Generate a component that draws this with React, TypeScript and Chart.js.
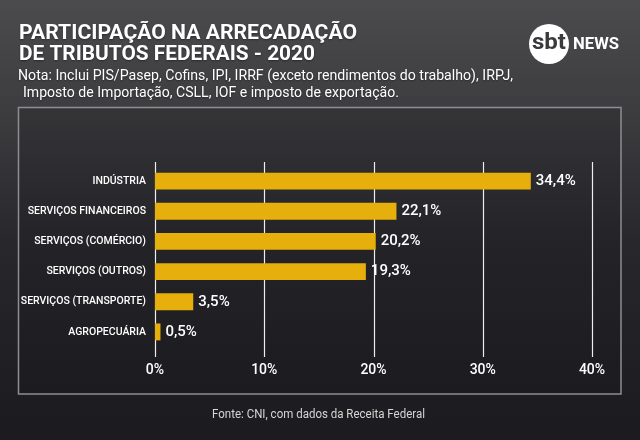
import React, { useEffect, useRef } from "react";
import { Chart, registerables } from "chart.js";

Chart.register(...registerables);

const categories = [
  "INDÚSTRIA",
  "SERVIÇOS FINANCEIROS",
  "SERVIÇOS (COMÉRCIO)",
  "SERVIÇOS (OUTROS)",
  "SERVIÇOS (TRANSPORTE)",
  "AGROPECUÁRIA",
];
const values = [34.4, 22.1, 20.2, 19.3, 3.5, 0.5];
const xTicks = [0, 10, 20, 30, 40];

const titleLines = ["PARTICIPAÇÃO NA ARRECADAÇÃO", "DE TRIBUTOS FEDERAIS - 2020"];
const noteLines = [
  "Nota: Inclui PIS/Pasep, Cofins, IPI, IRRF (exceto rendimentos do trabalho), IRPJ,",
  "Imposto de Importação, CSLL, IOF e imposto de exportação.",
];
const sourceText = "Fonte: CNI, com dados da Receita Federal";

const BAR = "#E6AF0C";

function fitText(ctx: CanvasRenderingContext2D, text: string, x: number, y: number, width: number) {
  const m = ctx.measureText(text).width;
  ctx.save();
  ctx.translate(x, y);
  ctx.scale(width / m, 1);
  ctx.fillText(text, 0, 0);
  ctx.restore();
}

const decorPlugin = {
  id: "decor",
  beforeDraw(chart: any) {
    const ctx: CanvasRenderingContext2D = chart.ctx;
    const W = chart.width;
    const H = chart.height;
    ctx.save();
    const g = ctx.createLinearGradient(0, 0, 0, H);
    g.addColorStop(0, "#4b4b4e");
    g.addColorStop(0.25, "#3d3d40");
    g.addColorStop(0.55, "#28282c");
    g.addColorStop(1, "#1b1b1f");
    ctx.fillStyle = g;
    ctx.fillRect(0, 0, W, H);

    // frame box
    ctx.fillStyle = "rgba(20,20,24,0.2)";
    ctx.fillRect(18, 107, 603, 287);
    ctx.strokeStyle = "#8e8e90";
    ctx.lineWidth = 1.5;
    ctx.strokeRect(18.5, 107.5, 602.5, 286.5);

    // titles
    ctx.fillStyle = "#ffffff";
    ctx.textAlign = "left";
    ctx.textBaseline = "alphabetic";
    ctx.shadowColor = "rgba(0,0,0,0.4)";
    ctx.shadowBlur = 2;
    ctx.shadowOffsetY = 1;
    ctx.font = "bold 20px Roboto";
    fitText(ctx, titleLines[0], 19, 39, 338);
    fitText(ctx, titleLines[1], 19, 60, 296);
    ctx.font = "14px Roboto";
    fitText(ctx, noteLines[0], 18, 80, 495);
    fitText(ctx, noteLines[1], 23, 97, 376);
    ctx.shadowColor = "transparent";

    // logo
    ctx.fillStyle = "#ffffff";
    ctx.beginPath();
    ctx.arc(549, 44, 20, 0, Math.PI * 2);
    ctx.fill();
    ctx.fillStyle = "#3a3a3d";
    ctx.font = "bold 22px Roboto";
    ctx.textAlign = "left";
    ctx.textBaseline = "middle";
    fitText(ctx, "sbt", 549 - 17, 43, 34);
    ctx.fillStyle = "#ffffff";
    ctx.font = "bold 16px Roboto";
    ctx.textBaseline = "alphabetic";
    fitText(ctx, "NEWS", 573, 49, 46);

    // source
    ctx.fillStyle = "#d6d6d6";
    ctx.font = "12px Roboto";
    fitText(ctx, sourceText, 212, 418, 213);
    ctx.restore();
  },
  beforeDatasetsDraw(chart: any) {
    const ctx: CanvasRenderingContext2D = chart.ctx;
    const xs = chart.scales.x;
    const a = chart.chartArea;
    ctx.save();
    ctx.strokeStyle = "rgba(255,255,255,0.92)";
    ctx.lineWidth = 1.2;
    for (const t of xTicks) {
      const px = Math.round(xs.getPixelForValue(t)) + 0.5;
      ctx.beginPath();
      ctx.moveTo(px, a.top - 4);
      ctx.lineTo(px, a.bottom + 10);
      ctx.stroke();
    }
    ctx.restore();
  },
  afterDatasetsDraw(chart: any) {
    const ctx: CanvasRenderingContext2D = chart.ctx;
    const meta = chart.getDatasetMeta(0);
    ctx.save();
    ctx.fillStyle = "#ffffff";
    ctx.font = "500 15px Roboto";
    ctx.textAlign = "left";
    ctx.textBaseline = "middle";
    meta.data.forEach((bar: any, i: number) => {
      const label = values[i].toFixed(1).replace(".", ",") + "%";
      ctx.fillText(label, bar.x + 5, bar.y);
    });
    ctx.restore();
  },
};

export default function App() {
  const ref = useRef<HTMLCanvasElement | null>(null);
  useEffect(() => {
    document.body.style.margin = "0";
    const chart = new Chart(ref.current as HTMLCanvasElement, {
      type: "bar",
      data: {
        labels: categories,
        datasets: [
          {
            data: values,
            backgroundColor: BAR,
            borderWidth: 0,
            barPercentage: 0.56,
            categoryPercentage: 1,
          },
        ],
      },
      options: {
        indexAxis: "y",
        responsive: false,
        animation: false,
        devicePixelRatio: 1,
        layout: { padding: { top: 166, right: 48, left: 0, bottom: 0 } },
        plugins: { legend: { display: false }, tooltip: { enabled: false } },
        scales: {
          x: {
            min: 0,
            max: 40,
            afterFit: (s: any) => {
              s.height = 93;
            },
            afterBuildTicks: (s: any) => {
              s.ticks = xTicks.map((v) => ({ value: v }));
            },
            grid: { display: false, drawTicks: false },
            border: { display: false },
            ticks: {
              padding: 15,
              color: "#ffffff",
              font: { family: "Roboto", size: 14, weight: "500" },
              callback: (v: any) => v + "%",
            },
          },
          y: {
            afterFit: (s: any) => {
              s.width = 155;
            },
            grid: { display: false, drawTicks: false },
            border: { display: false },
            ticks: {
              padding: 9,
              color: "#ffffff",
              font: { family: "Roboto", size: 10.5, weight: "500" },
            },
          },
        },
      },
      plugins: [decorPlugin],
    });
    return () => chart.destroy();
  }, []);
  return (
    <div style={{ position: "absolute", left: 0, top: 0, width: 640, height: 440 }}>
      <canvas ref={ref} width={640} height={440} style={{ width: 640, height: 440 }} />
    </div>
  );
}
